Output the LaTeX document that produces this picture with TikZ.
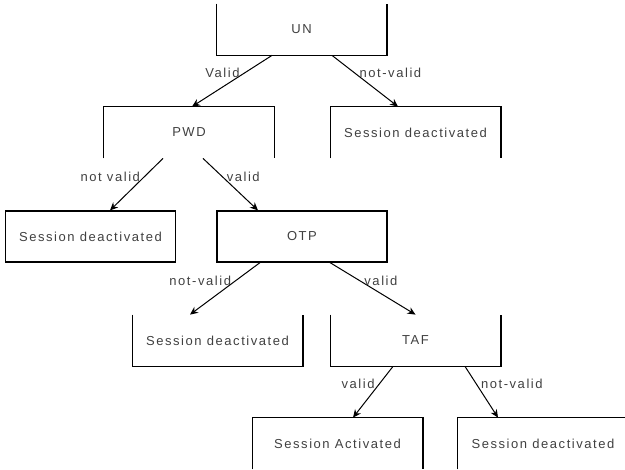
\documentclass[tikz,border=0pt]{standalone}
\usepackage{fontspec}
\newfontfamily\flowfont[LetterSpace=12]{Liberation Sans}
\usetikzlibrary{arrows.meta,calc}
\tikzset{
  state/.style={minimum width=85pt,minimum height=25.5pt,inner sep=0pt,
                font=\flowfont\fontsize{6.5}{7.8}\selectfont,text=black!75},
  closed/.style={state,draw=black,line width=0.6pt},
  side/.style={draw=black,line width=0.6pt},
  trans/.style={-{Stealth[length=4pt,width=3.6pt]},draw=black,line width=0.5pt},
  guard/.style={font=\flowfont\fontsize{6.5}{7.8}\selectfont,text=black!75,inner sep=2pt}
}
\begin{document}
\begin{tikzpicture}[x=0.5pt,y=-0.5pt]
  \useasboundingbox (0,0) rectangle (625,470);
  % login checks
  \node[state]  (un)   at (301.5,29.5)  {UN};
  \node[state]  (pwd)  at (189,132.5)   {PWD};
  \node[state]  (sd1)  at (415.5,132.5) {Session deactivated};
  \node[closed] (sd2)  at (90.5,236.5)  {Session deactivated};
  \node[closed] (otp)  at (302,236.5)   {OTP};
  \node[state]  (sd3)  at (217.5,340.5) {Session deactivated};
  \node[state]  (taf)  at (415.5,340.5) {TAF};
  \node[state]  (sa)   at (337.5,443.5) {Session Activated};
  \node[state]  (sd4)  at (543,443.5)   {Session deactivated};
  % boxes with one side left open
  \foreach \n in {pwd,sd1,sa,sd4}
    \draw[side] (\n.south west) |- (\n.north east) -- (\n.south east);
  \foreach \n in {un,sd3,taf}
    \draw[side] (\n.north west) |- (\n.south east) -- (\n.north east);

  \draw[trans] ($(un.south)+(-29.5,0)$) -- node[guard,pos=0.35,left] {Valid} ($(pwd.north)+(3,0)$);
  \draw[trans] ($(un.south)+(30.5,0)$) -- node[guard,pos=0.35,right] {not-valid} ($(sd1.north)+(-17.5,0)$);
  \draw[trans] ($(pwd.south)+(-26,0)$) -- node[guard,pos=0.35,left] {not valid} ($(sd2.north)+(19.5,0)$);
  \draw[trans] ($(pwd.south)+(14,0)$) -- node[guard,pos=0.35,right] {valid} ($(otp.north)+(-44,0)$);
  \draw[trans] ($(otp.south)+(-42,0)$) -- node[guard,pos=0.35,left] {not-valid} ($(sd3.north)+(-27.5,0)$);
  \draw[trans] ($(otp.south)+(28,0)$) -- node[guard,pos=0.35,right] {valid} (taf.north);
  \draw[trans] ($(taf.south)+(-22.5,0)$) -- node[guard,pos=0.35,left] {valid} ($(sa.north)+(15.5,0)$);
  \draw[trans] ($(taf.south)+(49.5,0)$) -- node[guard,pos=0.35,right] {not-valid} ($(sd4.north)+(-45,0)$);
\end{tikzpicture}
\end{document}
